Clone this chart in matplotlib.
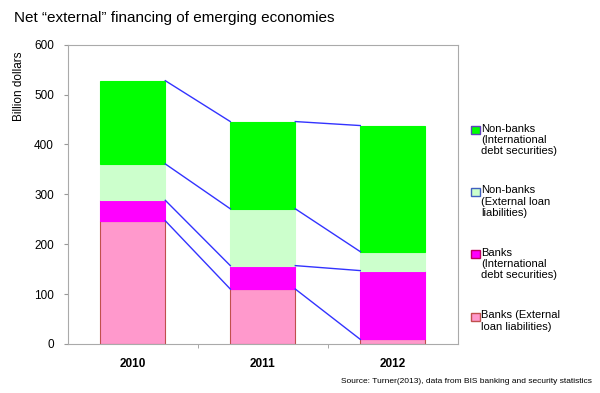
import numpy as np
import matplotlib.pyplot as plt
from matplotlib.patches import Rectangle

years = ['2010', '2011', '2012']
banks_loans = [247, 110, 9]
banks_debt = [41, 47, 138]
nonbanks_loans = [73, 114, 38]
nonbanks_debt = [167, 175, 253]

labels = ['Banks (External\nloan liabilities)',
          'Banks\n(International\ndebt securities)',
          'Non-banks\n(External loan\nliabilities)',
          'Non-banks\n(International\ndebt securities)']
colors = ['#ff99cc', '#ff00ff', '#ccffcc', '#00ff00']
edges = ['#c0504d', '#ff00ff', '#ccffcc', '#00ff00']
key_edges = ['#c0504d', '#c00060', '#4060c0', '#6040c0']

plt.rcParams['font.family'] = ['Liberation Sans', 'DejaVu Sans']

fig = plt.figure(figsize=(6, 3.93), dpi=100)
ax = fig.add_axes([0.113, 0.125, 0.65, 0.761])

x = np.arange(len(years))
w = 0.5
series = [banks_loans, banks_debt, nonbanks_loans, nonbanks_debt]
bottom = np.zeros(len(years))
tops = []
for vals, c, e in zip(series, colors, edges):
    vals = np.array(vals, dtype=float)
    ax.bar(x, vals, w, bottom=bottom, color=c, edgecolor=e, linewidth=0.8, zorder=2)
    bottom = bottom + vals
    tops.append(bottom.copy())

# series lines between bars
for t in tops:
    for i in range(len(years) - 1):
        ax.plot([x[i] + w / 2, x[i + 1] - w / 2], [t[i], t[i + 1]],
                color='#3333ff', lw=1, zorder=3)

ax.set_xlim(-0.5, 2.5)
ax.set_ylim(0, 600)
ax.set_yticks(range(0, 601, 100))
ax.set_xticks(x)
ax.set_xticklabels(years, fontsize=8.5, fontweight='bold')
ax.set_xticks([0.5, 1.5], minor=True)
ax.tick_params(axis='x', which='major', length=0, pad=10)
ax.tick_params(axis='x', which='minor', length=3, color='#999999')
ax.tick_params(axis='y', length=3, color='#999999', labelsize=8.5, pad=7)
for s in ax.spines.values():
    s.set_color('#aaaaaa')
ax.set_ylabel('Billion dollars', fontsize=8.5)
ax.yaxis.set_label_coords(-0.11, 0.86)

# legend drawn by hand, key box next to the first line of each label
W, H = 600, 393
line_y = [317, 254, 192, 130]  # first-line centres, px from top
for lab, c, e, yy in zip(labels, colors, key_edges, line_y):
    fy = 1 - yy / H
    fig.add_artist(Rectangle((471 / W, fy - 4 / H), 9 / W, 8 / H,
                             facecolor=c, edgecolor=e, lw=1,
                             transform=fig.transFigure))
    fig.text(481 / W, fy + 6.5 / H, lab, fontsize=8, va='top', ha='left',
             linespacing=1.15)

fig.text(0.023, 0.955, 'Net \u201cexternal\u201d financing of emerging economies',
         fontsize=11, va='center', ha='left')
fig.text(0.987, 0.03, 'Source: Turner(2013), data from BIS banking and security statistics',
         fontsize=6, ha='right', va='center')

fig.savefig('out.png', dpi=100)
